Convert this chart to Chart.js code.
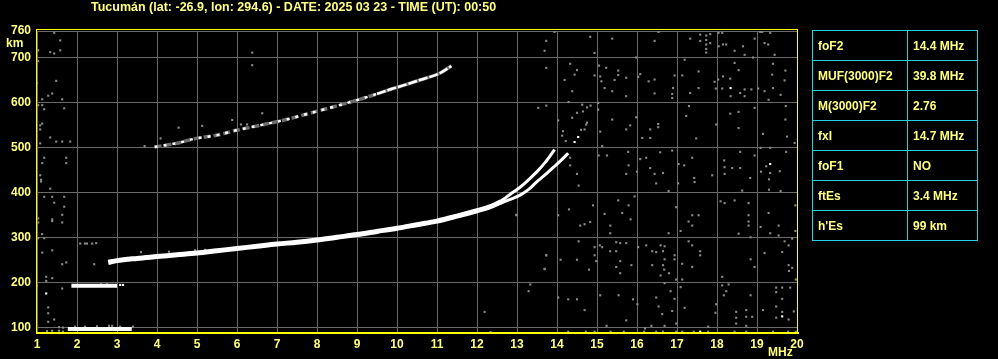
<!DOCTYPE html>
<html><head><meta charset="utf-8">
<script src="https://cdn.jsdelivr.net/npm/chart.js@4.4.1/dist/chart.umd.min.js"></script>
<style>
html,body{margin:0;padding:0;background:#000;width:998px;height:359px;overflow:hidden;}
#wrap{position:relative;width:998px;height:359px;}
canvas{position:absolute;left:0;top:0;}
.lbl{position:absolute;font:bold 12px "Liberation Sans",Arial,sans-serif;color:#ffff80;white-space:nowrap;line-height:14px;}
table{position:absolute;left:812px;top:30px;border-collapse:collapse;font:bold 12px "Liberation Sans",Arial,sans-serif;color:#ffff80;}
td{border:1px solid #1fd2dc;height:29px;padding:0 0 0 5px;vertical-align:middle;white-space:nowrap;}
td.k{width:89px;} td.v{width:64px;}
</style></head>
<body><div id="wrap">
<canvas id="c" width="998" height="359"></canvas>
<div class="lbl" id="title" style="left:91px;top:0px;font-size:12.5px;"></div>
<div class="lbl" style="left:6px;top:36px;">km</div>
<div class="lbl" style="left:768px;top:345px;">MHz</div>
<table id="tbl"></table>
</div>
<script>
// ---- data ----
const titleText = "Tucumán (lat: -26.9, lon: 294.6) - DATE: 2025 03 23 - TIME (UT): 00:50";
const freqTicks = [1,2,3,4,5,6,7,8,9,10,11,12,13,14,15,16,17,18,19,20];
const heightTicks = [100,200,300,400,500,600,700,760];
const paramNames = ["foF2","MUF(3000)F2","M(3000)F2","fxI","foF1","ftEs","h'Es"];
const paramValues = ["14.4 MHz","39.8 MHz","2.76","14.7 MHz","NO","3.4 MHz","99 km"];

// F layer (merged O+X) trace
const fMainFreq   = [2.78,3.0,3.5,4.0,4.5,5.0,5.5,6.0,6.5,7.0,7.5,8.0,8.5,9.0,9.5,10.0,10.5,11.0,11.5,12.0,12.3,12.6];
const fMainHeight = [245,249,254,258,262,266,271,276,281,286,290,295,301,307,314,321,329,337,348,360,368,380];
// F ordinary branch
const fOFreq   = [12.5,12.7,12.9,13.1,13.3,13.5,13.7,13.94];
const fOHeight = [376,388,401,414,430,447,467,496];
// F extraordinary branch
const fXFreq   = [12.5,12.8,13.1,13.3,13.5,13.7,13.9,14.1,14.28];
const fXHeight = [374,384,396,408,425,440,456,472,488];
// second hop F trace
const f2Freq   = [3.94,4.48,4.98,5.49,5.98,6.57,7.32,7.82,8.4,9.07,9.5,9.9,10.2,10.57,11.07,11.36];
const f2Height = [502,510,521,528,539,550,565,577,591,608,620,632,640,651,666,682];
// E / Es traces
const eFreq   = [1.77,2.2,2.8,3.37];
const eHeight = [97,97,97,97];
const esFreq   = [1.86,2.4,2.9,3.0];
const esHeight = [193,193,193,193];
// isolated bright echoes
const brightFreq   = [1.23,18.34,19.33,19.63,17.58,14.44,14.53,3.08,3.15];
const brightHeight = [176,633,464,125,91,513,524,195,195];
// scattered grey echoes (noise)
const noiseFreq = [
13.94,13.73,13.69,14.83,14.94,15.38,16.44,16.54,17.33,17.58,17.58,17.73,17.73,17.73,17.73,17.73,17.83,17.83,18.04,18.13,18.04,18.15,18.23,18.44,18.65,18.69,18.94,19.08,19.13,19.33,19.19,19.28,19.44,18.9,
13.73,14.33,14.5,14.19,14.44,14.94,14.38,14.29,15.05,15.23,15.08,15.11,15.53,15.53,15.44,15.73,15.19,15.38,15.73,15.98,16.03,16.08,16.29,16.44,16.44,16.94,17.13,17.19,17.54,16.9,16.88,16.88,17.33,17.54,17.94,18.03,17.97,18.13,18.15,18.33,18.44,18.54,18.34,18.58,18.69,18.69,18.86,19.03,19.19,19.29,19.4,19.38,19.4,19.59,19.71,19.69,
13.53,13.73,14.03,14.38,14.5,14.63,14.75,14.84,14.73,14.69,14.65,15.03,15.03,14.15,14.13,14.22,15.08,15.13,15.38,15.73,15.83,15.98,16.13,16.33,16.33,16.53,16.53,17.23,17.3,17.48,17.98,18.33,18.54,18.54,18.94,19.15,19.72,19.71,19.75,19.94,
14.33,14.33,14.5,15.04,15.25,15.78,15.79,15.73,16.0,16.08,16.23,16.33,16.44,16.58,16.65,16.88,17.04,17.18,17.38,17.43,17.88,18.18,18.19,18.19,18.38,18.58,18.58,18.83,18.94,19.09,19.33,19.23,19.33,19.1,19.57,19.73,19.3,
14.54,16.48,17.03,17.44,18.63,19.3,19.59,16.79,15.94,15.53,15.79,14.9,14.3,14.03,12.98,14.58,14.69,14.83,15.19,15.33,15.33,15.63,15.84,16.98,17.38,17.54,17.29,17.38,17.09,16.79,18.09,18.19,18.44,18.79,18.79,18.79,18.79,18.54,19.09,19.29,19.54,19.33,19.54,19.88,19.96,19.96,18.84,
14.54,15.07,15.13,15.48,15.58,15.73,14.94,14.94,14.98,15.33,15.48,15.58,15.48,15.58,15.86,16.03,16.23,16.38,16.48,16.59,16.69,16.65,16.94,16.94,16.69,16.38,16.65,16.68,16.59,16.8,17.13,17.38,17.38,17.29,17.58,17.58,13.73,14.09,14.5,13.69,14.8,18.84,18.94,19.19,19.63,19.69,19.79,19.79,19.88,19.8,19.97,16.98,17.13,18.13,
13.33,13.29,14.03,14.28,14.5,14.69,15.08,15.54,15.9,16.01,16.48,16.54,16.69,16.84,16.94,16.88,17.09,17.19,16.63,15.73,17.98,17.96,18.13,18.29,18.23,18.17,18.84,18.48,18.73,18.73,18.88,18.48,18.48,18.73,19.15,19.48,19.63,19.83,19.48,19.63,19.48,19.63,19.48,19.79,19.92,16.36,16.2,16.69,16.98,17.78,15.24,
14.28,14.72,14.94,15.34,15.67,16.18,16.48,16.65,16.98,17.13,17.42,17.78,18.44,18.73,19.4,19.78,19.97,
1.43,1.58,1.33,1.43,1.58,1.03,1.03,1.48,1.38,1.28,1.13,1.63,1.03,1.13,1.18,1.68,1.13,1.08,1.08,1.33,1.48,1.63,1.83,1.08,1.18,1.73,1.13,1.73,1.08,1.1,1.1,1.33,1.18,1.38,1.68,1.43,1.68,1.63,1.38,1.38,1.63,1.03,1.03,1.13,1.03,1.18,1.38,1.13,1.63,1.73,2.43,2.08,2.2,2.25,2.38,2.48,1.23,1.38,1.23,1.63,1.28,1.28,1.28,1.43,1.0,1.0,1.0,
1.55,1.65,1.95,2.2,2.5,2.8,2.88,3.08,3.4,1.25,1.38,1.55,1.65,
6.38,6.38,3.69,4.09,4.54,5.13,5.88,6.63,6.1,6.25,12.19,12.34,13.73,13.69,12.99,
2.6,2.75,3.6,4.3,4.95,5.2,14.6,14.75
];
const noiseHeight = [
758,738,716,747,711,743,738,758,743,752,738,750,740,730,720,712,753,733,756,756,726,730,730,716,726,707,743,758,758,756,733,730,707,701,
678,687,673,651,663,661,626,602,683,678,659,648,672,662,651,656,633,626,615,701,658,664,648,652,621,661,661,696,670,633,620,611,622,633,647,652,632,632,659,654,689,673,615,622,630,615,630,632,626,607,687,663,633,618,672,650,
589,594,561,567,578,596,590,594,552,541,581,600,585,537,527,515,536,504,563,541,550,568,522,541,522,546,553,571,593,521,552,576,580,544,589,531,593,563,525,511,
478,461,442,483,483,491,461,442,447,475,478,455,442,490,444,494,464,461,478,433,439,472,457,442,455,491,455,433,483,500,500,459,444,447,448,491,430,
416,421,421,424,405,407,404,404,392,383,372,372,363,350,351,327,330,335,353,327,310,355,341,368,350,350,336,327,315,310,381,377,383,377,350,336,327,309,324,355,327,310,305,298,372,315,301,
292,283,279,290,288,288,279,261,248,270,270,248,235,221,239,279,283,270,268,283,281,270,261,252,252,239,239,229,216,221,242,283,235,292,270,261,261,251,251,230,229,252,235,266,268,292,283,239,233,226,207,207,207,213,
196,181,167,163,163,139,172,172,163,152,167,147,199,181,164,137,190,144,130,116,152,133,194,196,181,172,172,135,139,124,124,122,109,104,139,189,189,189,179,164,147,135,122,118,136,104,98,104,109,102,104,
91,91,91,91,91,91,91,91,91,91,91,91,91,91,91,91,91,
756,739,713,710,717,717,693,649,621,616,608,608,595,595,586,588,554,550,541,523,514,514,514,510,478,478,466,466,439,429,425,409,391,391,391,378,369,351,341,337,334,343,334,308,299,299,272,267,241,245,241,287,287,287,287,288,213,210,204,187,145,132,113,118,193,299,644,
101,100,102,102,103,104,104,102,102,92,93,93,91,
712,684,504,521,545,549,562,577,552,552,135,90,261,231,350,
196,196,268,269,272,273,540,556
];

// ---- build ----
document.getElementById('title').textContent = titleText;
const tbl = document.getElementById('tbl');
paramNames.forEach((n,i)=>{
  const tr = document.createElement('tr');
  const a = document.createElement('td'); a.className='k'; a.textContent=n;
  const b = document.createElement('td'); b.className='v'; b.textContent=paramValues[i];
  tr.appendChild(a); tr.appendChild(b); tbl.appendChild(tr);
});

const toXY = (xs, ys) => xs.map((x, i) => ({x: x, y: ys[i]}));
const FONT = {family: '"Liberation Sans", Arial, sans-serif', size: 12, weight: 'bold'};
const TXT = '#ffff80';
const GRID = '#6a6a6a';
const GREY = '#8a8a8a';

const frame = {
  id: 'frame',
  afterDatasetsDraw(chart) {
    const ctx = chart.ctx;
    ctx.save();
    ctx.strokeStyle = '#ffff00';
    ctx.lineWidth = 1;
    ctx.strokeRect(36.5, 29.5, 761, 303);
    ctx.fillStyle = '#ffff00';
    ctx.fillRect(36, 332, 763, 2);
    ctx.restore();
  }
};

const traceLine = (xs, ys, w, color, order, extra) => Object.assign({
  data: toXY(xs, ys), showLine: true, borderColor: color, borderWidth: w,
  pointRadius: 0, cubicInterpolationMode: 'monotone', order: order, fill: false
}, extra || {});

new Chart(document.getElementById('c'), {
  type: 'scatter',
  data: {
    datasets: [
      {data: toXY(noiseFreq, noiseHeight), pointStyle: 'rect', pointRadius: 1.5, borderWidth: 0, backgroundColor: GREY, order: 10},
      traceLine(f2Freq, f2Height, 3.5, '#6e6e6e', 6, {segment: {borderDash: c => c.p0.parsed.x < 9.3 ? [7, 3] : undefined}}),
      traceLine(f2Freq, f2Height, 2.5, '#ffffff', 5, {segment: {borderDash: c => c.p0.parsed.x < 9.3 ? [3, 6] : [9, 2]}}),
      traceLine(fMainFreq, fMainHeight, 5, '#ffffff', 3),
      traceLine(fOFreq, fOHeight, 3, '#ffffff', 3),
      traceLine(fXFreq, fXHeight, 3, '#ffffff', 3),
      traceLine(eFreq, eHeight, 4, '#ffffff', 3),
      traceLine(esFreq, esHeight, 4, '#ffffff', 3),
      {data: toXY(brightFreq, brightHeight), pointStyle: 'rect', pointRadius: 1.5, borderWidth: 0, backgroundColor: '#ffffff', order: 2}
    ]
  },
  options: {
    responsive: false, animation: false, devicePixelRatio: 1,
    layout: {padding: {left: 0, right: 201, top: 31, bottom: 0}},
    plugins: {legend: {display: false}, tooltip: {enabled: false}, title: {display: false}},
    scales: {
      x: {
        type: 'linear', min: 1, max: 20,
        afterBuildTicks: s => { s.ticks = freqTicks.map(v => ({value: v})); },
        afterFit: s => { s.height = 26; },
        ticks: {color: TXT, font: FONT, padding: 4, autoSkip: false, maxRotation: 0, callback: v => String(v)},
        grid: {color: GRID, lineWidth: 1, drawTicks: false},
        border: {display: false}
      },
      y: {
        type: 'linear', min: 88, max: 760,
        afterBuildTicks: s => { s.ticks = heightTicks.map(v => ({value: v})); },
        afterFit: s => { s.width = 37; },
        ticks: {color: TXT, font: FONT, padding: 6, autoSkip: false, callback: v => String(v)},
        grid: {color: GRID, lineWidth: 1, drawTicks: false},
        border: {display: false}
      }
    }
  },
  plugins: [frame]
});
</script>
</body></html>
